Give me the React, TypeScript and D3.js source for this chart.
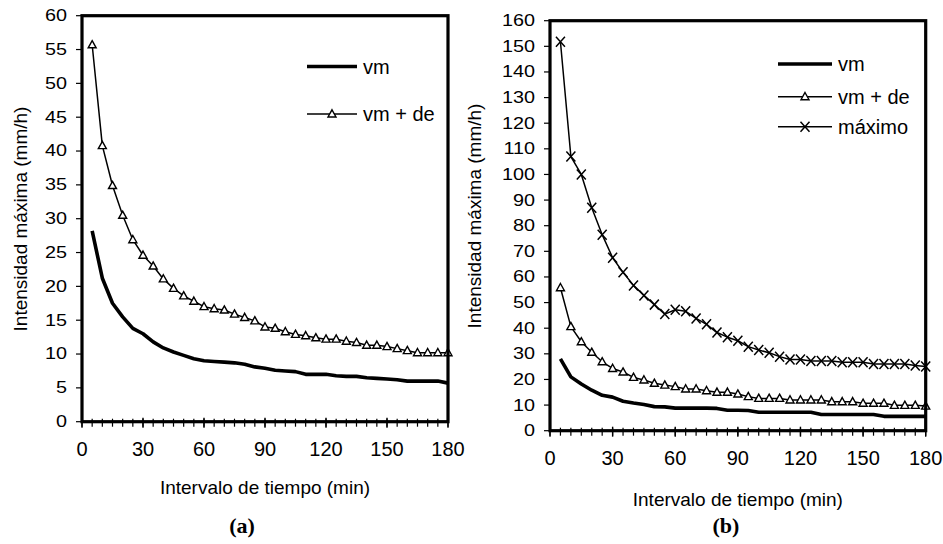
import React from "react";
import * as d3 from "d3";

const minutes = [5,10,15,20,25,30,35,40,45,50,55,60,65,70,75,80,85,90,95,100,105,110,115,120,125,130,135,140,145,150,155,160,165,170,175,180];

const vmA = [28.2,21.2,17.5,15.5,13.8,13.0,11.8,10.9,10.3,9.8,9.3,9.0,8.9,8.8,8.7,8.5,8.1,7.9,7.6,7.5,7.4,7.0,7.0,7.0,6.8,6.7,6.7,6.5,6.4,6.3,6.2,6.0,6.0,6.0,6.0,5.7];
const vmdeA = [55.7,40.8,34.9,30.5,26.9,24.6,23.0,21.1,19.7,18.6,17.8,17.0,16.7,16.5,15.9,15.4,14.9,14.0,13.8,13.3,12.9,12.7,12.4,12.2,12.2,11.9,11.7,11.3,11.3,11.1,10.8,10.5,10.2,10.2,10.2,10.2];

const vmB = [28.0,21.0,18.2,15.8,13.8,13.1,11.5,10.8,10.2,9.4,9.3,8.8,8.8,8.8,8.8,8.7,8.0,8.0,7.9,7.2,7.2,7.2,7.2,7.2,7.2,6.3,6.3,6.3,6.3,6.3,6.3,5.6,5.6,5.6,5.6,5.6];
const vmdeB = [55.8,40.6,34.7,30.6,26.9,24.3,22.9,20.8,19.8,18.5,17.8,17.2,16.3,16.3,15.6,15.0,15.0,14.3,13.3,12.6,12.6,12.6,12.0,12.0,12.0,12.0,11.3,11.3,11.3,10.7,10.7,10.7,9.9,9.9,9.9,9.6];
const maxB = [151.8,107.0,100.0,87.0,76.5,67.5,61.8,56.7,52.8,49.2,45.5,47.2,46.6,43.8,41.5,38.3,36.5,35.1,32.8,31.5,30.4,28.9,27.8,27.8,27.2,27.2,27.2,26.7,26.7,26.7,26.0,26.0,26.0,26.0,25.4,25.1];

const xTicks = [0,30,60,90,120,150,180];
const xMinorTicks = [0,5,10,15,20,25,30,35,40,45,50,55,60,65,70,75,80,85,90,95,100,105,110,115,120,125,130,135,140,145,150,155,160,165,170,175,180];
const yTicksA = [0,5,10,15,20,25,30,35,40,45,50,55,60];
const yTicksB = [0,10,20,30,40,50,60,70,80,90,100,110,120,130,140,150,160];

const xTitle = "Intervalo de tiempo (min)";
const yTitle = "Intensidad máxima (mm/h)";
const labelVm = "vm";
const labelVmde = "vm + de";
const labelMax = "máximo";

const SANS = "'Liberation Sans', Arial, sans-serif";
const SERIF = "'Liberation Serif', 'Times New Roman', serif";

function Tri({ x, y }: { x: number; y: number }) {
  return <path d={`M${x},${y - 4.2}L${x + 4},${y + 3}L${x - 4},${y + 3}Z`} fill="#fff" stroke="#000" strokeWidth={1.4} />;
}
function Cross({ x, y }: { x: number; y: number }) {
  return <path d={`M${x - 4.5},${y - 5}L${x + 4.5},${y + 5}M${x - 4.5},${y + 5}L${x + 4.5},${y - 5}`} stroke="#000" strokeWidth={1.5} fill="none" />;
}

type Series = { values: number[]; kind: "thick" | "tri" | "cross" };

function Panel(props: {
  left: number; right: number; top: number; bottom: number;
  yMax: number; yTicks: number[]; series: Series[];
  legend: { label: string; kind: "thick" | "tri" | "cross"; y: number }[];
  legX0: number; legX1: number; legText: number;
  yTitleX: number; yTitleY: number; xTitleY: number; xLabelY: number;
  tag: string; tagX: number; tagY: number;
}) {
  const x = d3.scaleLinear().domain([0, 180]).range([props.left, props.right]);
  const y = d3.scaleLinear().domain([0, props.yMax]).range([props.bottom, props.top]);
  const line = d3.line<number>().x((_, i) => x(minutes[i])).y((d) => y(d));
  const cx = (props.left + props.right) / 2;
  return (
    <g>
      {props.yTicks.map((t) => (
        <g key={"y" + t}>
          <line x1={props.left - 6} x2={props.left} y1={y(t)} y2={y(t)} stroke="#000" strokeWidth={1.2} />
          <text transform={`translate(${props.left - 15},${y(t)}) scale(1.2,1)`} textAnchor="end" dominantBaseline="central" fontFamily={SANS} fontSize={16.5}>{t}</text>
        </g>
      ))}
      {xMinorTicks.map((t) => (
        <line key={"m" + t} x1={x(t)} x2={x(t)} y1={props.bottom - 3} y2={props.bottom + 5} stroke="#000" strokeWidth={1.2} />
      ))}
      {xTicks.map((t) => (
        <g key={"x" + t}>
          <line x1={x(t)} x2={x(t)} y1={props.bottom - 4} y2={props.bottom + 6} stroke="#000" strokeWidth={1.4} />
          <text x={x(t)} y={props.xLabelY} textAnchor="middle" dominantBaseline="central" fontFamily={SANS} fontSize={20}>{t}</text>
        </g>
      ))}
      {props.series.map((s, k) => (
        <g key={"s" + k}>
          <path d={line(s.values) || ""} fill="none" stroke="#000" strokeWidth={s.kind === "thick" ? 3.6 : 1.5} strokeLinejoin="round" />
          {s.kind === "tri" && s.values.map((v, i) => <Tri key={i} x={x(minutes[i])} y={y(v)} />)}
          {s.kind === "cross" && s.values.map((v, i) => <Cross key={i} x={x(minutes[i])} y={y(v)} />)}
        </g>
      ))}
      <rect x={props.left} y={props.top} width={props.right - props.left} height={props.bottom - props.top} fill="none" stroke="#000" strokeWidth={3.2} />
      {props.legend.map((l, i) => (
        <g key={"l" + i}>
          <line x1={props.legX0} x2={props.legX1} y1={l.y} y2={l.y} stroke="#000" strokeWidth={l.kind === "thick" ? 3.6 : 1.5} />
          {l.kind === "tri" && <Tri x={(props.legX0 + props.legX1) / 2} y={l.y} />}
          {l.kind === "cross" && <Cross x={(props.legX0 + props.legX1) / 2} y={l.y} />}
          <text x={props.legText} y={l.y} dominantBaseline="central" fontFamily={SANS} fontSize={20}>{l.label}</text>
        </g>
      ))}
      <text x={cx} y={props.xTitleY} textAnchor="middle" dominantBaseline="central" fontFamily={SANS} fontSize={19}>{xTitle}</text>
      <text transform={`translate(${props.yTitleX},${props.yTitleY}) rotate(-90)`} textAnchor="middle" dominantBaseline="central" fontFamily={SANS} fontSize={19}>{yTitle}</text>
      <text x={props.tagX} y={props.tagY} textAnchor="middle" dominantBaseline="central" fontFamily={SERIF} fontWeight="bold" fontSize={22}>{props.tag}</text>
    </g>
  );
}

export default function App() {
  return (
    <svg width={943} height={544} style={{ position: "absolute", left: 0, top: 0, background: "#fff" }}>
      <rect x={0} y={0} width={943} height={544} fill="#fff" />
      <Panel
        left={82} right={448} top={15.7} bottom={421.7} yMax={60} yTicks={yTicksA}
        series={[{ values: vmA, kind: "thick" }, { values: vmdeA, kind: "tri" }]}
        legend={[{ label: labelVm, kind: "thick", y: 66.5 }, { label: labelVmde, kind: "tri", y: 114 }]}
        legX0={307} legX1={357} legText={363}
        yTitleX={20} yTitleY={219} xTitleY={487} xLabelY={449}
        tag="(a)" tagX={242} tagY={525}
      />
      <Panel
        left={550} right={925.7} top={20.7} bottom={430.7} yMax={160} yTicks={yTicksB}
        series={[{ values: vmB, kind: "thick" }, { values: vmdeB, kind: "tri" }, { values: maxB, kind: "cross" }]}
        legend={[{ label: labelVm, kind: "thick", y: 64 }, { label: labelVmde, kind: "tri", y: 96.7 }, { label: labelMax, kind: "cross", y: 126.7 }]}
        legX0={778} legX1={832} legText={838}
        yTitleX={474} yTitleY={216} xTitleY={499} xLabelY={457.5}
        tag="(b)" tagX={726} tagY={525}
      />
    </svg>
  );
}
